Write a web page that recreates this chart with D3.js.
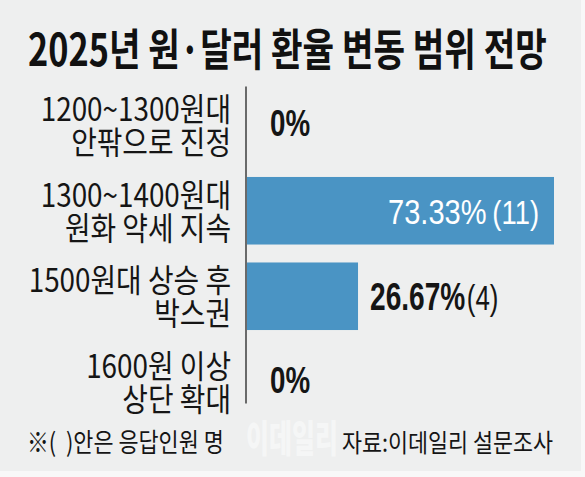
<!DOCTYPE html>
<html>
<head>
<meta charset="utf-8">
<script src="https://cdn.jsdelivr.net/npm/d3@7"></script>
<style>
html,body{margin:0;padding:0;background:#f8f8f8;}
svg{display:block;}
text{white-space:pre;}
</style>
</head>
<body>
<svg id="chart" width="585" height="477"></svg>
<script>
// ---- data ----
const title = "2025년 원·달러 환율 변동 범위 전망";
const categoryLine1 = ["1200~1300원대", "1300~1400원대", "1500원대 상승 후", "1600원 이상"];
const categoryLine2 = ["안팎으로 진정", "원화 약세 지속", "박스권", "상단 확대"];
const shares = [0, 73.33, 26.67, 0];
const respondents = [null, 11, 4, null];
const note = "※(  )안은 응답인원 명";
const source = "자료:이데일리 설문조사";
const watermark = "이데일리";

const KR = "'Noto Sans CJK KR', 'Noto Sans', sans-serif";
const NUM = "'Liberation Sans', Arial, sans-serif";

const svg = d3.select("#chart");
svg.append("rect").attr("x", 0).attr("y", 0).attr("width", 581).attr("height", 471).attr("fill", "#eeefef");

function ctext(g, x, y, str, o) {
  return g.append("text")
    .attr("transform", `translate(${x},${y}) scale(${o.sx || 1},1)`)
    .attr("text-anchor", o.anchor || "start")
    .attr("font-family", o.family || KR)
    .attr("font-size", o.size)
    .attr("font-weight", o.weight || 400)
    .attr("fill", o.fill || "#151515")
    .text(str);
}

// title, condensed to the reference width
const tt = svg.append("text")
  .attr("font-family", KR).attr("font-size", 44).attr("font-weight", 700)
  .attr("fill", "#111")
  .text(title);
const tw = tt.node().getComputedTextLength();
tt.attr("transform", `translate(28,66) scale(${519 / tw},1)`);

// scales
const idx = d3.range(categoryLine1.length);
const x = d3.scaleLinear().domain([0, d3.max(shares)]).range([246, 554]);
const y = d3.scaleBand().domain(idx).range([73.5, 433.5]).paddingInner(0.21).paddingOuter(0.21);

// watermark
const wm = svg.append("text")
  .attr("font-family", KR).attr("font-size", 38).attr("font-weight", 900)
  .attr("fill", "#ffffff").attr("opacity", 0.45)
  .text(watermark);
const ww = wm.node().getComputedTextLength();
wm.attr("transform", `translate(246,452) scale(${92 / ww},1)`);

// bars
svg.append("g").selectAll("rect").data(idx).join("rect")
  .attr("x", x(0) + 1)
  .attr("y", i => y(i))
  .attr("width", i => Math.max(0, x(shares[i]) - x(0) - 1))
  .attr("height", y.bandwidth())
  .attr("fill", "#4a94c4");

// axis line
svg.append("line")
  .attr("x1", x(0)).attr("x2", x(0))
  .attr("y1", y(0) - 5).attr("y2", y(idx.length - 1) + y.bandwidth() - 12)
  .attr("stroke", "#222").attr("stroke-width", 1.3);

// category labels (two lines)
const lab = svg.append("g");
idx.forEach(i => {
  const c = y(i) + y.bandwidth() / 2;
  const t = lab.append("text")
    .attr("transform", `translate(231,${c - 4}) scale(0.87,1)`)
    .attr("text-anchor", "end")
    .attr("font-family", KR).attr("font-size", 32).attr("fill", "#151515");
  t.append("tspan").attr("x", 0).attr("y", 0).text(categoryLine1[i]);
  t.append("tspan").attr("x", 0).attr("y", 33).text(categoryLine2[i]);
});

// value labels
const vl = svg.append("g");
idx.forEach(i => {
  const c = y(i) + y.bandwidth() / 2;
  const v = shares[i];
  const pct = (v === 0 ? "0" : v.toFixed(2)) + "%";
  if (v === 0) {
    ctext(vl, 270, c + 11, pct, {family: NUM, size: 37, weight: 700, sx: 0.75});
  } else if (x(v) - x(0) > 200) {
    const t = vl.append("text")
      .attr("transform", `translate(${x(v) - 15},${c + 13}) scale(0.83,1)`)
      .attr("text-anchor", "end")
      .attr("font-family", NUM).attr("fill", "#ffffff");
    t.append("tspan").attr("font-size", 35).text(pct);
    t.append("tspan").attr("font-size", 33).attr("dx", 7).text(`(${respondents[i]})`);
  } else {
    const t = vl.append("text")
      .attr("transform", `translate(${x(v) + 12},${c + 14}) scale(0.74,1)`)
      .attr("font-family", NUM).attr("fill", "#151515");
    t.append("tspan").attr("font-size", 38).attr("font-weight", 700).text(pct);
    t.append("tspan").attr("font-size", 35).attr("font-weight", 400).attr("dx", 2).text(`(${respondents[i]})`);
  }
});

// footer
ctext(svg, 27, 452, note, {size: 26, sx: 0.84});
ctext(svg, 553, 452, source, {size: 25, sx: 0.87, anchor: "end"});
</script>
</body>
</html>
